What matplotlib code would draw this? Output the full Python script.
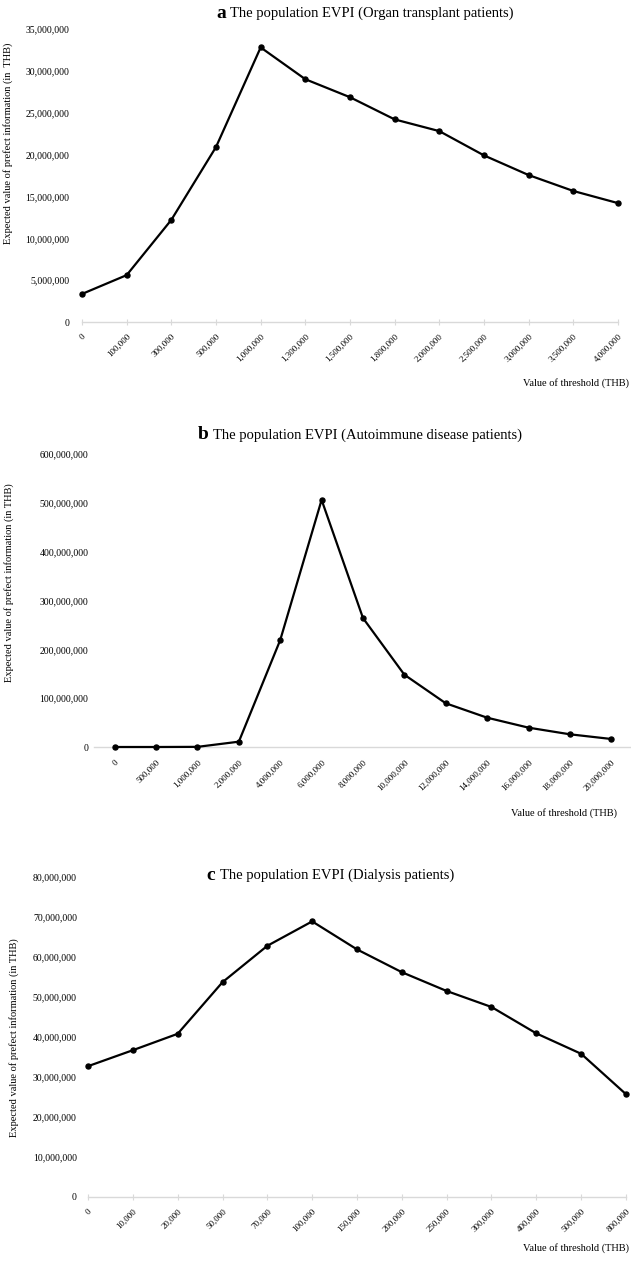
import matplotlib.pyplot as plt
from matplotlib.ticker import FuncFormatter

plt.rcParams['font.family'] = ['Liberation Serif', 'DejaVu Serif']

# data (EVPI in THB)
labels_a = ['0', '100,000', '300,000', '500,000', '1,000,000', '1,300,000', '1,500,000',
            '1,800,000', '2,000,000', '2,500,000', '3,000,000', '3,500,000', '4,000,000']
evpi_a = [3350000, 5600000, 12200000, 20900000, 32800000, 29000000, 26850000,
          24200000, 22800000, 19900000, 17550000, 15650000, 14200000]

labels_b = ['0', '500,000', '1,000,000', '2,000,000', '4,000,000', '6,000,000', '8,000,000',
            '10,000,000', '12,000,000', '14,000,000', '16,000,000', '18,000,000', '20,000,000']
evpi_b = [0, 0, 300000, 10900000, 219000000, 506000000, 264000000,
          148000000, 89500000, 60000000, 39600000, 26000000, 16400000]

labels_c = ['0', '10,000', '20,000', '50,000', '70,000', '100,000', '150,000',
            '200,000', '250,000', '300,000', '400,000', '500,000', '800,000']
evpi_c = [32700000, 36700000, 40800000, 53700000, 62800000, 68900000, 61900000,
          56200000, 51500000, 47500000, 40900000, 35800000, 25700000]

W, H = 631, 1288
fig = plt.figure(figsize=(W / 100, H / 100), dpi=100)


def add_ax(left, right, top, bottom):
    return fig.add_axes([left / W, 1 - bottom / H, (right - left) / W, (bottom - top) / H])


fmt = FuncFormatter(lambda v, p: f'{int(v):,}')


def panel(ax, labels, vals, ymax, ystep, xlim, ticks_on, ypad):
    x = list(range(len(vals)))
    ax.plot(x, vals, color='black', lw=1.6, marker='o', ms=3.6, clip_on=False, zorder=3)
    ax.set_xlim(*xlim)
    ax.set_ylim(0, ymax)
    ax.set_yticks(range(0, ymax + 1, ystep))
    ax.yaxis.set_major_formatter(fmt)
    ax.set_xticks(x)
    ax.set_xticklabels(labels, rotation=45, ha='right', va='top', rotation_mode='anchor')
    for s in ['top', 'right', 'left']:
        ax.spines[s].set_visible(False)
    ax.spines['bottom'].set_color('#d9d9d9')
    ax.spines['bottom'].set_linewidth(1)
    ax.tick_params(axis='y', length=0, pad=ypad, labelsize=7)
    if ticks_on:
        ax.tick_params(axis='x', direction='inout', length=5, color='#d9d9d9', labelsize=6.5, pad=5)
    else:
        ax.tick_params(axis='x', length=0, labelsize=6.5, pad=8)


ylab = 'Expected value of prefect information (in THB)'
xlab = 'Value of threshold (THB)'

# a
ax1 = add_ax(82, 618, 29, 322)
panel(ax1, labels_a, evpi_a, 35000000, 5000000, (0, 12), True, 9)
fig.text(216 / W, 1 - 13 / H, 'a', fontsize=14, fontweight='bold', va='center', ha='left')
fig.text(230 / W, 1 - 13 / H, 'The population EVPI (Organ transplant patients)',
         fontsize=10.5, va='center', ha='left')
fig.text(8 / W, 1 - 143 / H, ylab.replace('(in ', '(in  '), rotation=90, fontsize=7.5,
         va='center', ha='center')
fig.text(629 / W, 1 - 383 / H, xlab, fontsize=7.5, ha='right', va='center')

# b
ax2 = add_ax(94, 632, 454, 747)
panel(ax2, labels_b, evpi_b, 600000000, 100000000, (-0.5, 12.5), False, 4)
fig.text(198 / W, 1 - 435 / H, 'b', fontsize=14, fontweight='bold', va='center', ha='left')
fig.text(213 / W, 1 - 435 / H, 'The population EVPI (Autoimmune disease patients)',
         fontsize=10.5, va='center', ha='left')
fig.text(9 / W, 1 - 583 / H, ylab, rotation=90, fontsize=7.5, va='center', ha='center')
fig.text(617 / W, 1 - 813 / H, xlab, fontsize=7.5, ha='right', va='center')

# c
ax3 = add_ax(88, 626, 877, 1197)
panel(ax3, labels_c, evpi_c, 80000000, 10000000, (0, 12), True, 8)
fig.text(206 / W, 1 - 875 / H, 'c', fontsize=14, fontweight='bold', va='center', ha='left')
fig.text(220 / W, 1 - 875 / H, 'The population EVPI (Dialysis patients)',
         fontsize=10.5, va='center', ha='left')
fig.text(14 / W, 1 - 1038 / H, ylab, rotation=90, fontsize=7.5, va='center', ha='center')
fig.text(629 / W, 1 - 1248 / H, xlab, fontsize=7.5, ha='right', va='center')

fig.savefig('out.png', dpi=100, facecolor='white')
